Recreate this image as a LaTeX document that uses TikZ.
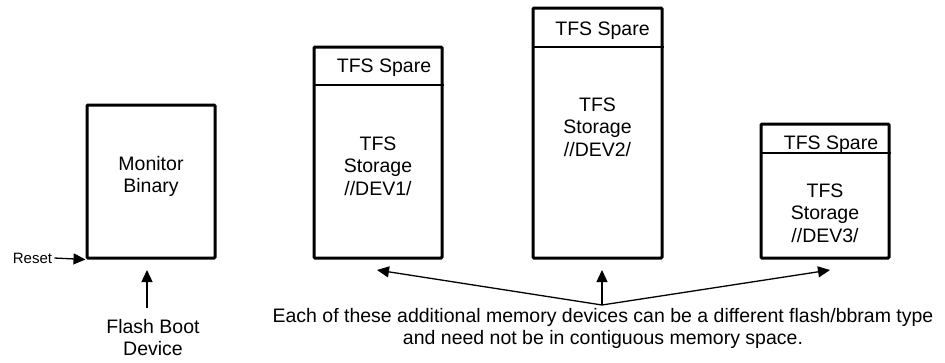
\documentclass[tikz,border=0pt]{standalone}
\usepackage{fontspec}
\setmainfont{Liberation Sans}
\usetikzlibrary{arrows.meta}
\newcommand\lnst{\rule[-5.5pt]{0pt}{21pt}}
\tikzset{
  membox/.style={draw, line width=3pt, rounded corners=1pt, minimum width=128pt, inner sep=0pt},
  divider/.style={line width=1.2pt},
  lbl/.style={inner sep=0pt, align=center, font=\fontsize{19.5pt}{22.5pt}\selectfont},
  arr/.style={line width=1.3pt, -{Triangle[length=12pt,width=11pt]}},
}
\begin{document}
\begin{tikzpicture}[x=1pt,y=-1pt]
\useasboundingbox (0,0) rectangle (945,362);

% boxes
\node[membox, minimum height=153pt] (mon) at (151,181.5) {};
\node[membox, minimum height=211pt] (d1) at (378,152.5) {};
\node[membox, minimum width=129pt, minimum height=250pt] (d2) at (597.5,133) {};
\node[membox, minimum height=134pt] (d3) at (825,191) {};

% dividers
\draw[divider] (d1.west |- 0,85) -- (d1.east |- 0,85);
\draw[divider] (d2.west |- 0,47) -- (d2.east |- 0,47);
\draw[divider] (d3.west |- 0,153) -- (d3.east |- 0,153);

% texts in boxes
\node[lbl, anchor=north] (montxt) at (151,154.5) {\lnst Monitor\\\lnst Binary};
\node[lbl, anchor=base] (sp1) at (384,72) {TFS Spare};
\node[lbl, anchor=base] (sp2) at (602.5,35) {TFS Spare};
\node[lbl, anchor=base] (sp3) at (831,149) {TFS Spare};
\node[lbl, anchor=north] (st1) at (378,134.5) {\lnst TFS\\\lnst Storage\\\lnst //DEV1/};
\node[lbl, anchor=north] (st2) at (597.5,95.5) {\lnst TFS\\\lnst Storage\\\lnst //DEV2/};
\node[lbl, anchor=north] (st3) at (825,181.5) {\lnst TFS\\\lnst Storage\\\lnst //DEV3/};

% reset
\node[inner sep=2pt, font=\fontsize{15pt}{18pt}\selectfont] (reset) at (32.5,258) {Reset};
\draw[arr] (reset.east) -- (mon.south west);

% flash boot
\node[lbl, anchor=north] (flash) at (153,317.5) {\lnst Flash Boot\\\lnst Device};
\coordinate (fbtail) at (147,308);
\coordinate (fbtip) at (147,270);
\draw[arr] (fbtail) -- (fbtip);

% fan of arrows
\node[lbl, anchor=north] (note) at (603,306.5) {\lnst Each of these additional memory devices can be a different flash/bbram type\\\lnst and need not be in contiguous memory space.};
\coordinate (fan) at (602,305);
\coordinate (t1) at (377,270);
\coordinate (t2) at (602,270);
\coordinate (t3) at (830,270);
\draw[arr] (fan) -- (t1);
\draw[arr] (fan) -- (t2);
\draw[arr] (fan) -- (t3);
\end{tikzpicture}
\end{document}
